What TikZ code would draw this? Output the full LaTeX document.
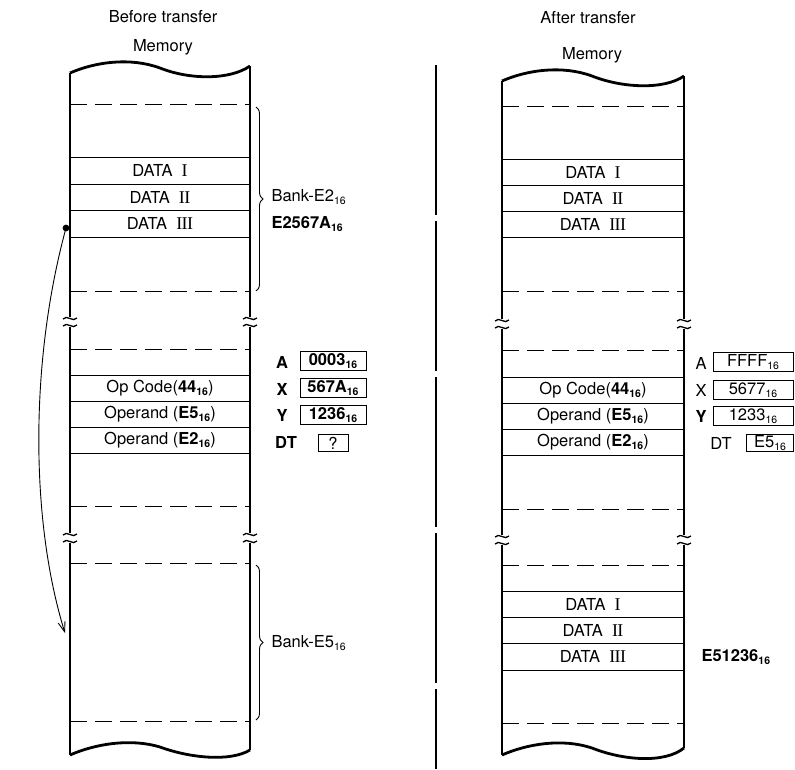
\documentclass[tikz,border=0pt]{standalone}
\usepackage{fontspec}
\setmainfont{TeX Gyre Heros}
\newfontfamily\romfont{Liberation Serif}
\usetikzlibrary{arrows.meta,decorations.pathreplacing}

\newcommand{\sixteen}{\raisebox{-0.35ex}{\fontsize{10.5}{11}\selectfont 16}}
\newcommand{\rmn}[1]{{\romfont\fontsize{18}{19}\selectfont #1}}
\newcommand{\brkmark}[2]{%
  \draw[brk] (#1-7,#2-3) .. controls (#1-3,#2-8) and (#1+3,#2+1) .. (#1+7,#2-4);
  \draw[brk] (#1-7,#2+4) .. controls (#1-3,#2-1) and (#1+3,#2+8) .. (#1+7,#2+3);}

\tikzset{
  memedge/.style={line width=2.8pt},
  cellline/.style={line width=0.9pt},
  cutline/.style={line width=0.9pt, dash pattern=on 17pt off 8pt},
  regbox/.style={draw, line width=0.9pt, minimum height=19pt, inner sep=0pt},
  brk/.style={line width=1.3pt},
  boldtxt/.style={font=\fontsize{16.5}{19}\selectfont\bfseries},
}

\begin{document}
\begin{tikzpicture}[x=1pt, y=-1pt, font=\fontsize{16.5}{19}\selectfont]
\useasboundingbox (0,0) rectangle (795,769);

% Titles
\node (titleL) at (163,17) {Before transfer};
\node (memL) at (163,47) {Memory};
\node (titleR) at (588,18) {After transfer};
\node (memR) at (592,55) {Memory};

% Divider
\draw[line width=1.1pt, dash pattern=on 150pt off 6pt] (436,65) -- (436,769);

% Draw left memory outline
\draw[memedge] (70,73) .. controls (95,62) and (130,57) .. (160,68)
  .. controls (190,80) and (230,80) .. (250,66);
\draw[memedge] (70,755) .. controls (95,744) and (130,738) .. (160,747)
  .. controls (190,758) and (230,762) .. (250,750);
\draw[memedge] (70,73) -- (70,317) (70,327) -- (70,533) (70,543) -- (70,755);
\draw[memedge] (250,66) -- (250,317) (250,327) -- (250,533) (250,543) -- (250,750);
\brkmark{70}{322}
\brkmark{250}{322}
\brkmark{70}{538}
\brkmark{250}{538}

% Left cells
\draw[cutline] (70,104) -- (250,104) (70,291) -- (250,291)
  (70,349) -- (250,349) (70,506) -- (250,506)
  (70,563) -- (250,563) (70,721) -- (250,721);
\draw[cellline] (70,157) -- (250,157) (70,184) -- (250,184)
  (70,210) -- (250,210) (70,237) -- (250,237);
\draw[cellline] (70,375) -- (250,375) (70,401) -- (250,401)
  (70,427) -- (250,427) (70,453) -- (250,453);

\node (dLa) at (160,170) {DATA\ \ \rmn{I}};
\node (dLb) at (160,197) {DATA\ \ \rmn{I\kern-0.6pt I}};
\node (dLc) at (160,223) {DATA\ \ \rmn{I\kern-0.6pt I\kern-0.6pt I}};
\node (opL) at (160,388) {Op Code(\textbf{44\sixteen})};
\node (e5L) at (160,414) {Operand (\textbf{E5\sixteen})};
\node (e2L) at (160,440) {Operand (\textbf{E2\sixteen})};

% Banks
\coordinate (bkAtop) at (256,107);
\coordinate (bkAbot) at (256,291);
\coordinate (bkBtop) at (256,565);
\coordinate (bkBbot) at (256,720);
\draw[cellline, decorate, decoration={brace, amplitude=7pt}] (bkAtop) -- (bkAbot);
\draw[cellline, decorate, decoration={brace, amplitude=7pt}] (bkBtop) -- (bkBbot);
\node[anchor=west] (bankA) at (268,197) {Bank-E2\sixteen};
\node[anchor=west, boldtxt] (adrL) at (268,224) {E2567A\sixteen};
\node[anchor=west] (bankB) at (268,643) {Bank-E5\sixteen};

% Transfer arrow
\coordinate (src) at (66,228);
\coordinate (dst) at (65,633);
\fill (src) circle (3.4pt);
\draw[cellline, -{Straight Barb[length=10pt,width=7pt]}] (src) .. controls (30,360) and (30,520) .. (dst);

% Left registers
\node[boldtxt] (regAL) at (282,362) {A};
\node[regbox, minimum width=66pt, boldtxt] (valAL) at (333,361) {0003\sixteen};
\node[boldtxt] (regXL) at (282,389) {X};
\node[regbox, minimum width=66pt, boldtxt] (valXL) at (333,388) {567A\sixteen};
\node[boldtxt] (regYL) at (282,415) {Y};
\node[regbox, minimum width=66pt, boldtxt] (valYL) at (333,415) {1236\sixteen};
\node[boldtxt] (regDL) at (286,442) {DT};
\node[regbox, minimum width=30pt, minimum height=17pt] (valDL) at (333,443) {?};

% Draw right memory outline
\draw[memedge] (502,81) .. controls (527,70) and (562,65) .. (592,76)
  .. controls (622,88) and (664,90) .. (684,76);
\draw[memedge] (502,755) .. controls (527,744) and (562,738) .. (592,748)
  .. controls (622,760) and (664,764) .. (684,748);
\draw[memedge] (502,81) -- (502,319) (502,329) -- (502,535) (502,545) -- (502,755);
\draw[memedge] (684,76) -- (684,319) (684,329) -- (684,535) (684,545) -- (684,748);
\brkmark{502}{324}
\brkmark{684}{324}
\brkmark{502}{540}
\brkmark{684}{540}

% Right cells
\draw[cutline] (502,106) -- (684,106) (502,291) -- (684,291)
  (502,350) -- (684,350) (502,509) -- (684,509)
  (502,565) -- (684,565) (502,723) -- (684,723);
\draw[cellline] (502,159) -- (684,159) (502,185) -- (684,185)
  (502,211) -- (684,211) (502,237) -- (684,237);
\draw[cellline] (502,377) -- (684,377) (502,403) -- (684,403)
  (502,429) -- (684,429) (502,455) -- (684,455);
\draw[cellline] (502,591) -- (684,591) (502,617) -- (684,617)
  (502,643) -- (684,643) (502,670) -- (684,670);

\node (dRa) at (593,172) {DATA\ \ \rmn{I}};
\node (dRb) at (593,198) {DATA\ \ \rmn{I\kern-0.6pt I}};
\node (dRc) at (593,224) {DATA\ \ \rmn{I\kern-0.6pt I\kern-0.6pt I}};
\node (opR) at (593,390) {Op Code(\textbf{44\sixteen})};
\node (e5R) at (593,416) {Operand (\textbf{E5\sixteen})};
\node (e2R) at (593,442) {Operand (\textbf{E2\sixteen})};
\node (dRd) at (593,604) {DATA\ \ \rmn{I}};
\node (dRe) at (593,630) {DATA\ \ \rmn{I\kern-0.6pt I}};
\node (dRf) at (593,656) {DATA\ \ \rmn{I\kern-0.6pt I\kern-0.6pt I}};
\node[anchor=west, boldtxt] (adrR) at (698,657) {E51236\sixteen};

% Right registers
\node (regAR) at (701,363) {A};
\node[regbox, minimum width=80pt] (valAR) at (753,362) {FFFF\sixteen};
\node (regXR) at (701,390) {X};
\node[regbox, minimum width=80pt] (valXR) at (753,390) {5677\sixteen};
\node[boldtxt] (regYR) at (701,416) {Y};
\node[regbox, minimum width=80pt] (valYR) at (753,416) {1233\sixteen};
\node (regDR) at (721,443) {DT};
\node[regbox, minimum width=47pt, minimum height=17pt] (valDR) at (770,443) {E5\sixteen};
\end{tikzpicture}
\end{document}
